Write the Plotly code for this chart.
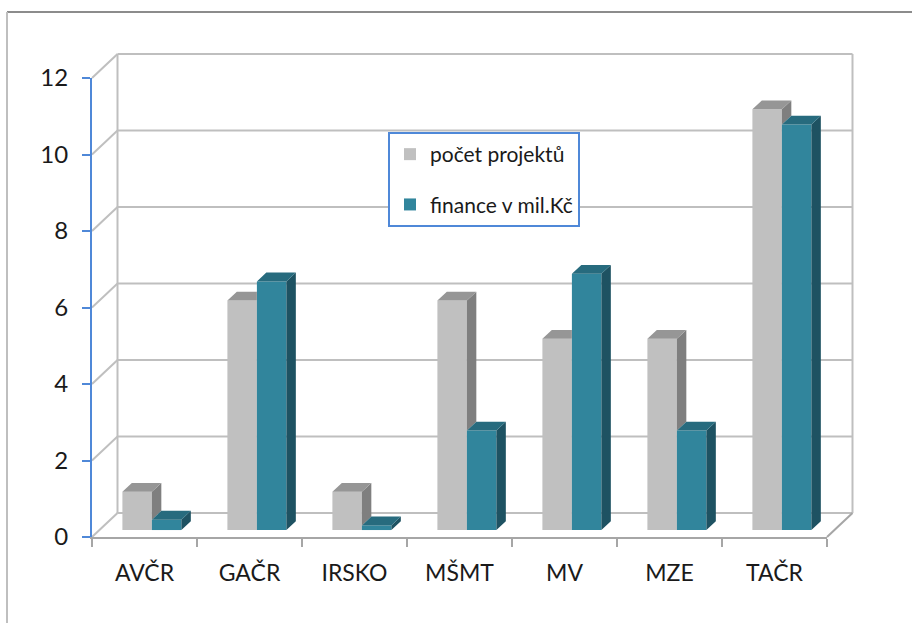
import plotly.graph_objects as go

# ---- data ----
categories = ["AVČR", "GAČR", "IRSKO", "MŠMT", "MV", "MZE", "TAČR"]
pocet_projektu = [1, 6, 1, 6, 5, 5, 11]
finance = [0.27, 6.5, 0.12, 2.6, 6.7, 2.6, 10.6]
y_ticks = [0, 2, 4, 6, 8, 10, 12]
series_names = ["počet projektů", "finance v mil.Kč"]

# ---- style / geometry ----
W, H = 912, 623
AX_L, AX_R, AX_B, AX_T = 92, 827, 537, 78          # front axes box (px)
PX_X = (AX_R - AX_L) / len(categories)              # px per category
PX_Y = (AX_B - AX_T) / 12.0                          # px per value unit
DX = 25.5 / PX_X                                     # depth shift (x units)
DY = 24.0 / PX_Y                                     # depth shift (value units)
D0, D1 = 0.29, 0.66                                  # bar front/back depth
PAIR_OFF = 23 / PX_X
BAR_W = 29.5 / PX_X

GRAY = dict(front="#C0C0C0", top="#969696", side="#7F7F7F")
TEAL = dict(front="#31859C", top="#276B7E", side="#1E5262")
GRID = "#BFBFBF"
BLUE = "#4F88D8"
FONT = "Lato, Carlito, Calibri, sans-serif"

x_lo = -AX_L / PX_X
x_hi = (W - AX_L) / PX_X
y_lo = -(H - AX_B) / PX_Y
y_hi = AX_B / PX_Y

fig = go.Figure()

b0 = D0 * DY
ddx = (D1 - D0) * DX
ddy = (D1 - D0) * DY

def faces(v, xl, xr, other_v=None, clip_right=False):
    g = b0 + v
    if clip_right:
        top = [(xl, g), (xr, g), (xr, g + ddy), (xl + ddx, g + ddy), (xl, g)]
    else:
        top = [(xl, g), (xr, g), (xr + ddx, g + ddy), (xl + ddx, g + ddy), (xl, g)]
    lo = b0 + (other_v if other_v is not None else 0)
    side = [(xr, lo), (xr, g), (xr + ddx, g + ddy), (xr + ddx, lo + ddy), (xr, lo)]
    return top, side

polys = {"gt": [], "gs": [], "tt": [], "ts": []}
g_centers, t_centers = [], []
for i, (vg, vt) in enumerate(zip(pocet_projektu, finance)):
    xl_g = i + PAIR_OFF + D0 * DX
    xr_g = xl_g + BAR_W
    xl_t = xr_g
    xr_t = xl_t + BAR_W
    g_centers.append((xl_g + xr_g) / 2)
    t_centers.append((xl_t + xr_t) / 2)
    covered = vt >= vg + ddy
    top_g, side_g = faces(vg, xl_g, xr_g, other_v=min(vt, vg), clip_right=covered)
    polys["gt"].append(top_g)
    if vg > vt:
        polys["gs"].append(side_g)
    top_t, side_t = faces(vt, xl_t, xr_t)
    polys["tt"].append(top_t)
    polys["ts"].append(side_t)

# front faces as bars
fig.add_trace(go.Bar(x=g_centers, y=pocet_projektu, base=b0, width=BAR_W,
                     marker=dict(color=GRAY["front"], line=dict(width=0)),
                     name=series_names[0], legendgroup="a",
                     xaxis="x", yaxis="y", hoverinfo="skip"))
fig.add_trace(go.Bar(x=t_centers, y=finance, base=b0, width=BAR_W,
                     marker=dict(color=TEAL["front"], line=dict(width=0)),
                     name=series_names[1], legendgroup="b",
                     xaxis="x", yaxis="y", hoverinfo="skip"))

def poly_trace(plist, color):
    xs, ys = [], []
    for p in plist:
        xs += [q[0] for q in p] + [None]
        ys += [q[1] for q in p] + [None]
    return go.Scatter(x=xs, y=ys, mode="lines", fill="toself", fillcolor=color,
                      line=dict(width=0, color=color), showlegend=False,
                      hoverinfo="skip", xaxis="x", yaxis="y")

fig.add_trace(poly_trace(polys["gs"], GRAY["side"]))
fig.add_trace(poly_trace(polys["gt"], GRAY["top"]))
fig.add_trace(poly_trace(polys["ts"], TEAL["side"]))
fig.add_trace(poly_trace(polys["tt"], TEAL["top"]))

# walls & floor (below traces)
n = len(categories)
shapes = []
line = dict(color=GRID, width=2)
for v in y_ticks:
    shapes.append(dict(type="line", xref="x", yref="y", x0=DX, x1=n + DX,
                       y0=v + DY, y1=v + DY, line=line, layer="below"))
    if v > 0:
        shapes.append(dict(type="line", xref="x", yref="y", x0=0, x1=DX,
                           y0=v, y1=v + DY, line=line, layer="below"))
shapes.append(dict(type="line", xref="x", yref="y", x0=0, x1=DX, y0=0, y1=DY,
                   line=line, layer="below"))
shapes.append(dict(type="line", xref="x", yref="y", x0=DX, x1=DX, y0=DY,
                   y1=y_ticks[-1] + DY, line=line, layer="below"))
shapes.append(dict(type="line", xref="x", yref="y", x0=n + DX, x1=n + DX, y0=DY,
                   y1=y_ticks[-1] + DY, line=line, layer="below"))
shapes.append(dict(type="line", xref="x", yref="y", x0=n, x1=n + DX, y0=0, y1=DY,
                   line=dict(color="#A6A6A6", width=2), layer="below"))
# outer chart frame
shapes.append(dict(type="line", xref="paper", yref="paper", x0=7 / W, x1=1,
                   y0=1 - 12 / H, y1=1 - 12 / H, line=dict(color="#8C8C8C", width=2)))
shapes.append(dict(type="line", xref="paper", yref="paper", x0=7 / W, x1=7 / W,
                   y0=0, y1=1 - 12 / H, line=dict(color="#BFBFBF", width=2)))

# axis holder trace for front axes
fig.add_trace(go.Scatter(x=categories, y=pocet_projektu, mode="markers",
                         marker=dict(opacity=0), showlegend=False,
                         hoverinfo="skip", xaxis="x2", yaxis="y2"))

fig.update_layout(
    template="none",
    width=W, height=H,
    margin=dict(l=0, r=0, t=0, b=0, pad=0, autoexpand=False),
    paper_bgcolor="white", plot_bgcolor="rgba(0,0,0,0)",
    barmode="overlay",
    showlegend=True,
    shapes=shapes,
    font=dict(family=FONT, color="#1A1A1A"),
    xaxis=dict(domain=[0, 1], range=[x_lo, x_hi], visible=False,
               fixedrange=True, automargin=False),
    yaxis=dict(domain=[0, 1], range=[y_lo, y_hi], visible=False,
               fixedrange=True, automargin=False),
    xaxis2=dict(domain=[AX_L / W, AX_R / W], anchor="y2", type="category",
                categoryorder="array", categoryarray=categories,
                range=[-0.5, n - 0.5], tickson="boundaries", ticks="outside",
                ticklen=8, tickwidth=2, tickcolor="#A6A6A6",
                showline=True, linecolor="#A6A6A6", linewidth=2,
                showgrid=False, zeroline=False, ticklabelstandoff=14,
                automargin=False, fixedrange=True,
                tickfont=dict(size=23, family=FONT, color="#1A1A1A")),
    yaxis2=dict(domain=[1 - AX_B / H, 1 - AX_T / H], anchor="x2",
                range=[0, 12], tickvals=y_ticks, ticks="outside", ticklen=8,
                tickwidth=2, tickcolor=BLUE, showline=True, linecolor=BLUE,
                linewidth=2, showgrid=False, zeroline=False,
                ticklabelstandoff=9, automargin=False, fixedrange=True,
                tickfont=dict(size=24, family=FONT, color="#1A1A1A")),
    legend=dict(x=388 / W, y=1 - 132 / H, xanchor="left", yanchor="top",
                bgcolor="white", bordercolor=BLUE, borderwidth=2,
                font=dict(size=21, family=FONT, color="#1A1A1A"),
                tracegroupgap=20, traceorder="grouped"),
)

fig.write_html("out.html", config={"displayModeBar": False},
               post_script="document.body.style.margin='0';"
                           "document.body.style.overflow='hidden';")
